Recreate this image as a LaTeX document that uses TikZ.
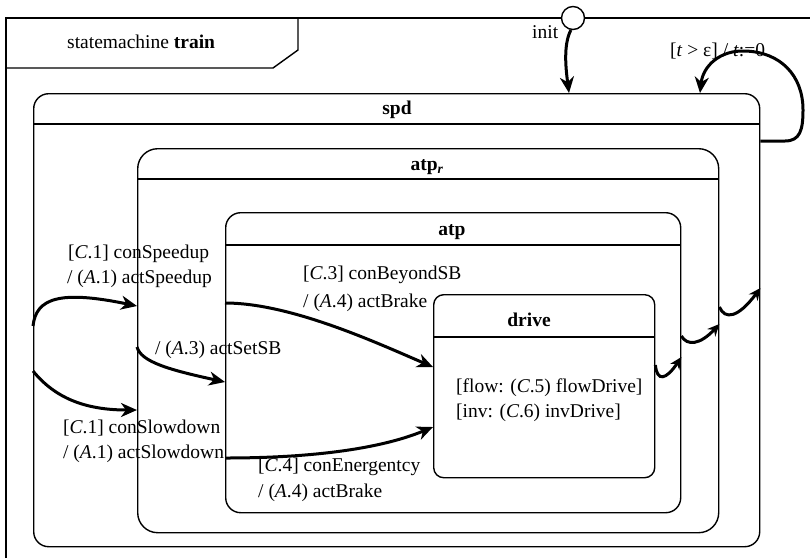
\documentclass[tikz,border=0pt]{standalone}
\usepackage{fontspec}
\setmainfont{Liberation Serif}
\usetikzlibrary{arrows.meta}
\begin{document}
\begin{tikzpicture}[x=1pt,y=-1pt,
  box/.style={draw, line width=1.4pt, inner sep=0pt, anchor=north west},
  hdr/.style={line width=1.4pt},
  trans/.style={line width=3pt, -{Stealth[length=16pt,width=14pt,inset=5pt]}},
  small/.style={line width=3pt, -{Stealth[length=12pt,width=11pt,inset=4pt]}},
  lbl/.style={anchor=base west, inner sep=0pt, font=\fontsize{19.5}{24}\selectfont},
  ttl/.style={anchor=base, inner sep=0pt, font=\fontsize{19.5}{24}\selectfont\bfseries}]
\useasboundingbox (0,0) rectangle (810,558);
% frame
\draw[line width=1.4pt] (6,558) -- (6,18) -- (810,18);
\draw[line width=1.4pt] (5,68) -- (273,68) -- (298,50) -- (298,18);
\node[lbl] (smlabel) at (67,48) {statemachine \textbf{train}};
% boxes
\node[box, rounded corners=15pt, minimum width=726pt, minimum height=453pt] (spd) at (33,93) {};
\node[box, rounded corners=20pt, minimum width=581pt, minimum height=384pt] (atpr) at (137,148) {};
\node[box, rounded corners=15pt, minimum width=455pt, minimum height=300pt] (atp) at (225,212) {};
\node[box, rounded corners=10pt, minimum width=221pt, minimum height=183pt] (drive) at (433,294) {};
% titles and header lines
\node[ttl] (spdT) at (397,114) {spd};
\draw[hdr] (spd.west |- 0,124) -- (spd.east |- 0,124);
\node[ttl] (atprT) at (427,170) {atp\textsubscript{\textit{r}}};
\draw[hdr] (atpr.west |- 0,179) -- (atpr.east |- 0,179);
\node[ttl] (atpT) at (452,235) {atp};
\draw[hdr] (atp.west |- 0,245) -- (atp.east |- 0,245);
\node[ttl] (driveT) at (529,326) {drive};
\draw[hdr] (drive.west |- 0,337) -- (drive.east |- 0,337);
\node[lbl] (flow) at (456,392) {[flow: (\textit{C}.5) flowDrive]};
\node[lbl] (inv) at (456,417) {[inv: (\textit{C}.6) invDrive]};
% init
\node[circle, draw, fill=white, line width=1.4pt, minimum size=23pt, inner sep=0pt] (init) at (573,18) {};
\node[lbl] (initL) at (532,38) {init};
\draw[trans] (init.260) .. controls (563,45) and (566,70) .. (spd.north -| 569,0);
% self loop
\node[lbl] (loopL) at (670,56) {[\textit{t} > ε] / \textit{t}:=0};
\draw[trans] (spd.east |- 0,141) -- (785,141) .. controls (800,141) and (803,130) .. (803,110) .. controls (803,75) and (780,52) .. (745,51) .. controls (720,50) and (703,66) .. (spd.north -| 700,0);
% transitions
\node[lbl] (l1a) at (68,258) {[\textit{C}.1] conSpeedup};
\node[lbl] (l1b) at (67,283) {/ (\textit{A}.1) actSpeedup};
\draw[trans] (spd.west |- 0,326) .. controls (36,298) and (60,290) .. (atpr.west |- 0,306);
\node[lbl] (l2a) at (63,433) {[\textit{C}.1] conSlowdown};
\node[lbl] (l2b) at (63,458) {/ (\textit{A}.1) actSlowdown};
\draw[trans] (spd.west |- 0,371) .. controls (55,398) and (85,410) .. (atpr.west |- 0,410);
\node[lbl] (l3) at (155,354) {/ (\textit{A}.3) actSetSB};
\draw[trans] (atpr.west |- 0,347) .. controls (141,362) and (170,370) .. (atp.west |- 0,382);
\node[lbl] (l4a) at (303,279) {[\textit{C}.3] conBeyondSB};
\node[lbl] (l4b) at (303,307) {/ (\textit{A}.4) actBrake};
\draw[trans] (atp.west |- 0,303) .. controls (290,303) and (375,342) .. (drive.west |- 0,367);
\node[lbl] (l5a) at (258,471) {[\textit{C}.4] conEnergentcy};
\node[lbl] (l5b) at (258,497) {/ (\textit{A}.4) actBrake};
\draw[trans] (atp.west |- 0,458) .. controls (320,458) and (385,447) .. (drive.west |- 0,427);
% exit squiggles
\draw[small] (drive.east |- 0,365) .. controls (657,382) and (666,380) .. (atp.east |- 0,357);
\draw[small] (atp.east |- 0,336) .. controls (687,346) and (700,345) .. (atpr.east |- 0,324);
\draw[small] (atpr.east |- 0,307) .. controls (725,320) and (738,318) .. (spd.east |- 0,288);
\end{tikzpicture}
\end{document}
